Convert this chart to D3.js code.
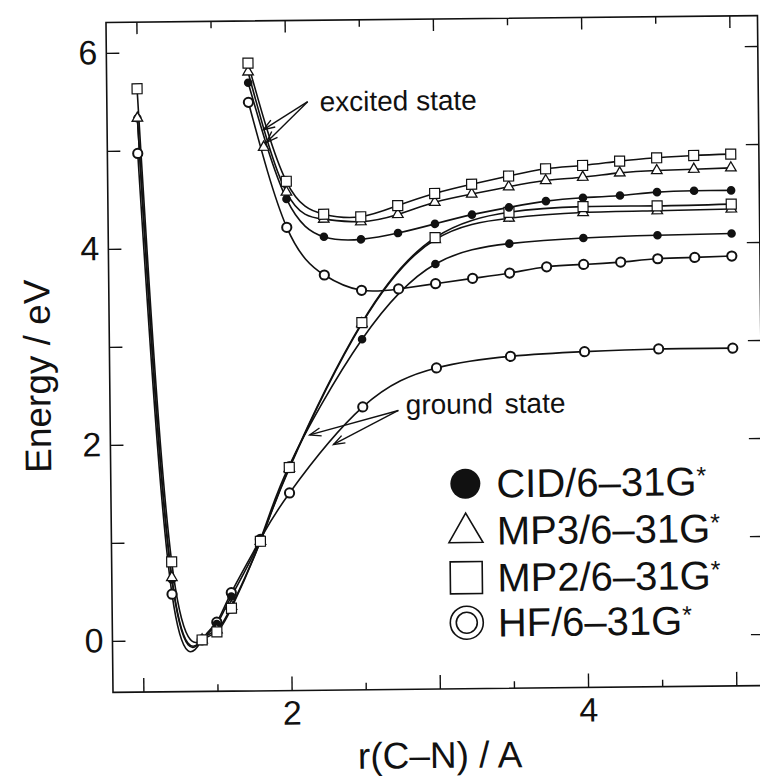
<!DOCTYPE html>
<html><head><meta charset="utf-8">
<script src="https://cdn.jsdelivr.net/npm/d3@7"></script>
<style>
body{margin:0;background:#fff}
svg{display:block}
text{font-family:"Liberation Sans",Arial,Helvetica,sans-serif;fill:#111}
</style>
</head><body>
<svg id="chart" width="760" height="776"></svg>
<script>
// ---------- data ----------
const groundR    = [1.0, 1.2, 1.4, 1.5, 1.6, 1.8, 2.0, 2.5, 3.0, 3.5, 4.0, 4.5, 5.0];
const cidGround  = [5.33, 0.62, 0.00, 0.16, 0.44, 1.02, 1.77, 3.05, 3.81, 4.01, 4.06, 4.08, 4.09];
const mp3Ground  = [5.33, 0.64, 0.00, 0.10, 0.34, 1.00, 1.74, 3.21, 4.06, 4.27, 4.32, 4.33, 4.34];
const mp2Ground  = [5.63, 0.80, 0.00, 0.08, 0.32, 1.00, 1.75, 3.22, 4.08, 4.33, 4.38, 4.38, 4.39];
const hfGround   = [4.97, 0.47, 0.00, 0.18, 0.48, 1.02, 1.49, 2.36, 2.75, 2.86, 2.90, 2.92, 2.92];

const excitedR   = [1.75, 2.0, 2.25, 2.5, 2.75, 3.0, 3.25, 3.5, 3.75, 4.0, 4.25, 4.5, 4.75, 5.0];
const cidExcited = [5.68, 4.49, 4.10, 4.07, 4.13, 4.22, 4.31, 4.38, 4.44, 4.47, 4.49, 4.52, 4.53, 4.53];
const mp3Excited = [5.79, 4.56, 4.28, 4.25, 4.32, 4.44, 4.52, 4.59, 4.65, 4.68, 4.72, 4.74, 4.75, 4.76];
const mp2Excited = [5.88, 4.67, 4.33, 4.30, 4.41, 4.53, 4.62, 4.70, 4.77, 4.80, 4.84, 4.87, 4.89, 4.90];
const hfExcited  = [5.48, 4.20, 3.71, 3.55, 3.56, 3.61, 3.66, 3.71, 3.77, 3.79, 3.81, 3.84, 3.85, 3.86];

const mp3ExtraR = [1.85];
const mp3ExtraE = [5.02];

const methods  = ["CID/6–31G", "MP3/6–31G", "MP2/6–31G", "HF/6–31G"];
const symbols  = ["filled", "triangle", "square", "ring"];

const xMajorTicks = [1, 2, 3, 4, 5];
const xMinorTicks = [1.5, 2.5, 3.5, 4.5];
const xTickLabels = [2, 4];
const yTicks      = [0, 1, 2, 3, 4, 5, 6];
const yTickLabels = [0, 2, 4, 6];

const xTitle = "r(C–N) / A";
const yTitle = "Energy / eV";
const excitedLabel = "excited state";
const groundLabel  = "ground state";

// ---------- layout ----------
const svg = d3.select("#chart");
const L = 109.5, R = 761, T = 19, B = 689;
const x = d3.scaleLinear().domain([0.795, 5.19]).range([L, R]);
const y = d3.scaleLinear().domain([-0.526, 6.31]).range([B, T]);

// the scanned figure is slightly rotated
const root = svg.append("g").attr("transform", "rotate(-0.6,437,356)");

// frame
root.append("rect").attr("x", L).attr("y", T).attr("width", R - L).attr("height", B - T)
  .attr("fill", "none").attr("stroke", "#111").attr("stroke-width", 1.6);

function styleAxis(g) {
  g.select(".domain").remove();
  g.selectAll(".tick line").attr("stroke", "#111").attr("stroke-width", 1.4);
  g.selectAll(".tick text").style("font-size", "34px").attr("fill", "#111");
}

// bottom axis
root.append("g").attr("transform", `translate(0,${B})`)
  .call(d3.axisBottom(x).tickValues(xMajorTicks).tickSize(-14).tickPadding(10)
        .tickFormat(d => xTickLabels.includes(d) ? d : ""))
  .call(styleAxis);
root.append("g").attr("transform", `translate(0,${B})`)
  .call(d3.axisBottom(x).tickValues(xMinorTicks).tickSize(-7).tickFormat(""))
  .call(styleAxis);
// top axis
root.append("g").attr("transform", `translate(0,${T})`)
  .call(d3.axisTop(x).tickValues(xMajorTicks).tickSize(-12).tickFormat(""))
  .call(styleAxis);
root.append("g").attr("transform", `translate(0,${T})`)
  .call(d3.axisTop(x).tickValues(xMinorTicks).tickSize(-7).tickFormat(""))
  .call(styleAxis);
// left axis
root.append("g").attr("transform", `translate(${L},0)`)
  .call(d3.axisLeft(y).tickValues(yTicks).tickSize(-13).tickPadding(9)
        .tickFormat(d => yTickLabels.includes(d) ? d : ""))
  .call(styleAxis);
// right axis
root.append("g").attr("transform", `translate(${R},0)`)
  .call(d3.axisRight(y).tickValues(yTicks).tickSize(-13).tickFormat(""))
  .call(styleAxis);

// axis titles
root.append("text").attr("x", 436).attr("y", 768).attr("text-anchor", "middle")
  .style("font-size", "37px").text(xTitle);
root.append("text").attr("transform", "translate(50,372) rotate(-90)")
  .attr("text-anchor", "middle").style("font-size", "37px").text(yTitle);

// ---------- curves ----------
const line = d3.line().x(d => x(d[0])).y(d => y(d[1])).curve(d3.curveNatural);
const zip = (xs, ys) => xs.map((v, i) => [v, ys[i]]);

const curves = [
  {sym: "ring",     pts: zip(groundR, hfGround)},
  {sym: "filled",   pts: zip(groundR, cidGround)},
  {sym: "triangle", pts: zip(groundR, mp3Ground)},
  {sym: "square",   pts: zip(groundR, mp2Ground)},
  {sym: "ring",     pts: zip(excitedR, hfExcited)},
  {sym: "filled",   pts: zip(excitedR, cidExcited)},
  {sym: "triangle", pts: zip(excitedR, mp3Excited)},
  {sym: "square",   pts: zip(excitedR, mp2Excited)}
];

const plot = root.append("g");
plot.selectAll("path.curve").data(curves).join("path").attr("class", "curve")
  .attr("d", d => line(d.pts)).attr("fill", "none").attr("stroke", "#111").attr("stroke-width", 1.6);

function drawMarker(g, sym, cx, cy) {
  if (sym === "filled") {
    g.append("circle").attr("cx", cx).attr("cy", cy).attr("r", 4.3).attr("fill", "#111");
  } else if (sym === "ring") {
    g.append("circle").attr("cx", cx).attr("cy", cy).attr("r", 4.6)
      .attr("fill", "#fff").attr("stroke", "#111").attr("stroke-width", 2);
  } else if (sym === "triangle") {
    g.append("path").attr("transform", `translate(${cx},${cy})`)
      .attr("d", d3.symbol(d3.symbolTriangle, 48)())
      .attr("fill", "#fff").attr("stroke", "#111").attr("stroke-width", 1.3);
  } else if (sym === "square") {
    g.append("path").attr("transform", `translate(${cx},${cy})`)
      .attr("d", d3.symbol(d3.symbolSquare, 100)())
      .attr("fill", "#fff").attr("stroke", "#111").attr("stroke-width", 1.2);
  }
}

const markG = root.append("g");
curves.forEach(c => c.pts.forEach(p => drawMarker(markG, c.sym, x(p[0]), y(p[1]))));
mp3ExtraR.forEach((r, i) => drawMarker(markG, "triangle", x(r), y(mp3ExtraE[i])));

// ---------- annotations ----------
function arrow(g, x1, y1, x2, y2) {
  g.append("line").attr("x1", x1).attr("y1", y1).attr("x2", x2).attr("y2", y2)
    .attr("stroke", "#111").attr("stroke-width", 1.4);
  const a = Math.atan2(y1 - y2, x1 - x2), len = 12, w = 0.35;
  const p = [[x2 + len * Math.cos(a + w), y2 + len * Math.sin(a + w)], [x2, y2],
             [x2 + len * Math.cos(a - w), y2 + len * Math.sin(a - w)]];
  g.append("path").attr("d", d3.line()(p)).attr("fill", "none")
    .attr("stroke", "#111").attr("stroke-width", 1.4);
}
const ann = root.append("g");
// excited state
ann.append("text").attr("x", x(2.23)).attr("y", y(5.38)).style("font-size", "28px").text(excitedLabel);
arrow(ann, x(2.15), y(5.48), x(1.85), y(5.20));
arrow(ann, x(2.15), y(5.48), x(1.87), y(5.07));
// ground state
ann.append("text").attr("x", x(2.79)).attr("y", y(2.28)).style("font-size", "28px")
  .style("word-spacing", "4px").text(groundLabel);
arrow(ann, x(2.74), y(2.32), x(2.14), y(2.08));
arrow(ann, x(2.74), y(2.32), x(2.30), y(1.98));

// ---------- legend ----------
const leg = root.append("g").attr("transform", "translate(464,0)");
const rowBase = [498, 545, 592, 637];
methods.forEach((m, i) => {
  const cy = rowBase[i] - 14;
  const sym = symbols[i];
  if (sym === "filled") leg.append("circle").attr("cx", 0).attr("cy", cy).attr("r", 15).attr("fill", "#111");
  if (sym === "triangle") leg.append("path").attr("transform", `translate(0,${cy + 2})`)
      .attr("d", d3.symbol(d3.symbolTriangle, 500)()).attr("fill", "none").attr("stroke", "#111").attr("stroke-width", 1.6);
  if (sym === "square") leg.append("rect").attr("x", -16).attr("y", cy - 16).attr("width", 32).attr("height", 32)
      .attr("fill", "none").attr("stroke", "#111").attr("stroke-width", 1.6);
  if (sym === "ring") {
    leg.append("circle").attr("cx", 0).attr("cy", cy).attr("r", 16.5).attr("fill", "none").attr("stroke", "#111").attr("stroke-width", 1.6);
    leg.append("circle").attr("cx", 0).attr("cy", cy).attr("r", 10.5).attr("fill", "none").attr("stroke", "#111").attr("stroke-width", 1.6);
  }
  const t = leg.append("text").attr("x", 31).attr("y", rowBase[i]).style("font-size", "40px");
  t.append("tspan").text(m);
  t.append("tspan").attr("dy", -11).style("font-size", "25px").text("*");
});
</script>
</body></html>
